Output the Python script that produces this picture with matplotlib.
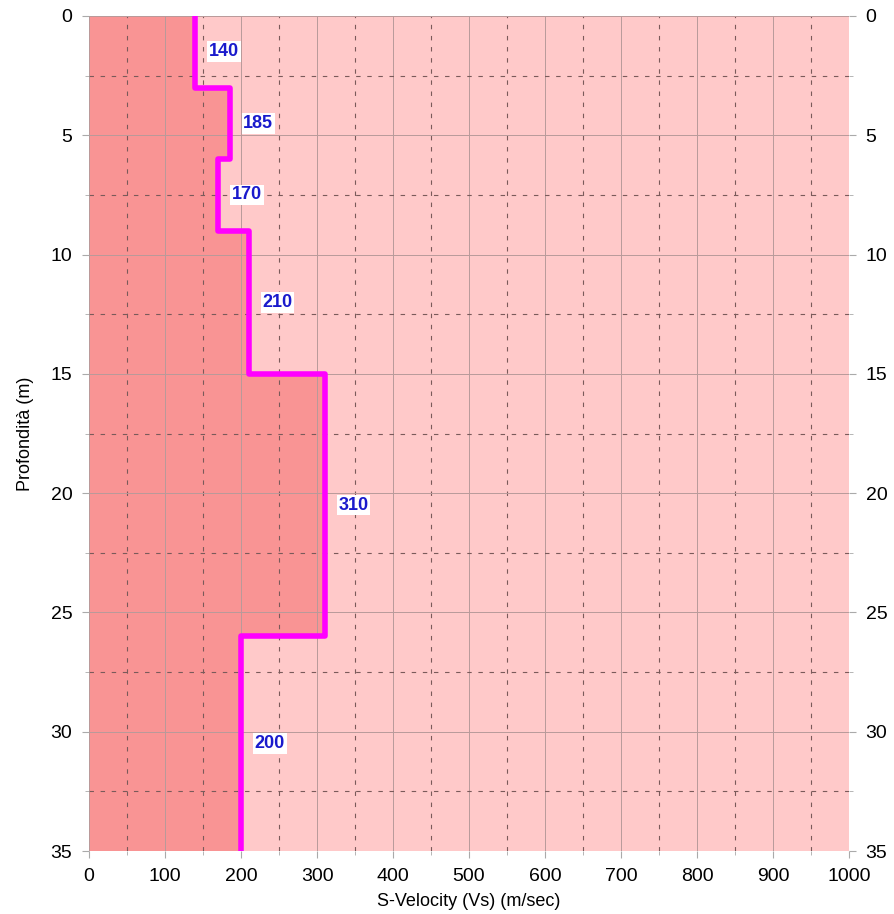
import numpy as np
import matplotlib
matplotlib.use('Agg')
import matplotlib.pyplot as plt
from matplotlib.ticker import MultipleLocator

plt.rcParams['font.family'] = ['Liberation Sans', 'DejaVu Sans']

# layer tops / bottoms (m) and shear velocity (m/s)
tops = [0, 3, 6, 9, 15, 26]
bottoms = [3, 6, 9, 15, 26, 35]
vs = [140, 185, 170, 210, 310, 200]
labels = ['140', '185', '170', '210', '310', '200']

fig = plt.figure(figsize=(8.94, 9.14), dpi=100)
ax = fig.add_axes([0.0996, 0.0689, 0.8501, 0.9136])

ax.set_facecolor('#ffc9c9')

# step profile
depth = []
vel = []
for t, b, v in zip(tops, bottoms, vs):
    depth += [t, b]
    vel += [v, v]
ax.fill_betweenx(depth, 0, vel, color='#f99494', lw=0, zorder=1)
ax.plot(vel, depth, color='#ff00ff', lw=4, zorder=4, solid_capstyle='butt')

for t, b, v, lab in zip(tops, bottoms, vs, labels):
    ax.text(v + 18, (t + b) / 2, lab, color='#1a1acc', fontsize=13, fontweight='bold',
            ha='left', va='center', zorder=5,
            bbox=dict(boxstyle='square,pad=0.1', fc='white', ec='none'))

ax.set_xlim(0, 1000)
ax.set_ylim(35, 0)
ax.xaxis.set_major_locator(MultipleLocator(100))
ax.xaxis.set_minor_locator(MultipleLocator(50))
ax.yaxis.set_major_locator(MultipleLocator(5))
ax.yaxis.set_minor_locator(MultipleLocator(2.5))
ax.grid(which='major', color='#b89a9a', lw=0.7, zorder=2)
ax.grid(which='minor', color='#7a5a5a', lw=0.8, ls=(0, (4, 6)), zorder=2)
ax.set_axisbelow(False)
for sp in ax.spines.values():
    sp.set_visible(False)

ax.tick_params(which='both', color='#aaaaaa', labelsize=14, right=True, labelright=True)
ax.tick_params(which='major', length=5, pad=7)
ax.tick_params(which='minor', length=3)

ax.set_xlabel('S-Velocity (Vs) (m/sec)', fontsize=13, labelpad=6)
ax.set_ylabel('Profondità (m)', fontsize=13, labelpad=12)

fig.savefig('out.png', dpi=100)
